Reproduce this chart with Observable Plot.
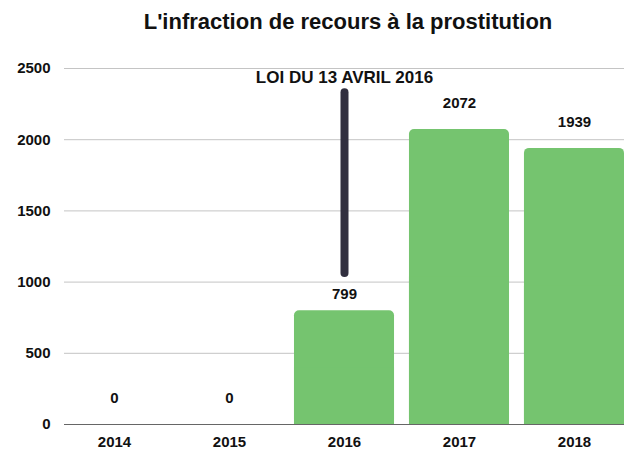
<!DOCTYPE html>
<html>
<head>
<meta charset="utf-8">
<script src="https://cdn.jsdelivr.net/npm/d3@7"></script>
<script src="https://cdn.jsdelivr.net/npm/@observablehq/plot@0.6"></script>
<style>
  body { margin: 0; background: #fff; }
  #title {
    width: 624px; height: 45px; box-sizing: border-box;
    padding-top: 11px; padding-left: 72px;
    text-align: center; font-family: "Liberation Sans Narrow", "Liberation Sans", sans-serif;
    font-weight: bold; font-size: 22px; line-height: 1; color: #111;
  }
</style>
</head>
<body>
<div id="title">L'infraction de recours à la prostitution</div>
<div id="chart"></div>
<script>
const years = ["2014", "2015", "2016", "2017", "2018"];
const counts = [0, 0, 799, 2072, 1939];
const yTicks = [0, 500, 1000, 1500, 2000, 2500];
const lawYear = "2016";
const lawLabel = "LOI DU 13 AVRIL 2016";
const lawSpan = [1060, 2330];

const data = years.map((year, i) => ({year, count: counts[i]}));
const green = "#75c46f";
const numFont = "Liberation Sans, Arial, sans-serif";

const chart = Plot.plot({
  width: 624,
  height: 405,
  marginTop: 23,
  marginBottom: 26,
  marginLeft: 64,
  marginRight: 0,
  style: {fontFamily: numFont, fontWeight: "bold", background: "#fff", color: "#111"},
  x: {domain: years, paddingInner: 0.13, paddingOuter: 0, align: 0.5, round: false, label: null},
  y: {domain: [0, 2500], ticks: yTicks, label: null},
  marks: [
    Plot.ruleY(yTicks.filter(t => t > 0), {stroke: "#c4c4c4", strokeOpacity: 1}),
    Plot.barY(data, {x: "year", y: "count", fill: green, rx: 5}),
    Plot.barY(data, {x: "year", y1: 0, y2: d => d.count / 2, fill: green}),
    Plot.ruleY([0], {stroke: "#666", strokeOpacity: 1}),
    Plot.axisY({ticks: yTicks, tickFormat: d => String(d), tickSize: 0, tickPadding: 14, fontSize: 15, fontWeight: "bold", fill: "#111", label: null, fontFamily: numFont}),
    Plot.axisX({tickSize: 0, tickPadding: 12, fontSize: 15, fontWeight: "bold", fill: "#111", label: null, fontFamily: numFont}),
    Plot.text(data.filter(d => d.year !== lawYear), {x: "year", y: "count", text: d => String(d.count), dy: -26, fontSize: 15, fontWeight: "bold", fill: "#111", fontFamily: numFont}),
    Plot.text(data.filter(d => d.year === lawYear), {x: "year", y: "count", text: d => String(d.count), dy: -17, fontSize: 15, fontWeight: "bold", fill: "#111", fontFamily: numFont}),
    Plot.ruleX([lawYear], {x: d => d, y1: lawSpan[0], y2: lawSpan[1], stroke: "#312f3f", strokeWidth: 8, strokeLinecap: "round", strokeOpacity: 1}),
    Plot.text([lawLabel], {x: () => lawYear, frameAnchor: "top", dy: 2, text: d => d, fontSize: 17, fontWeight: "bold", fill: "#111", fontFamily: "Liberation Sans Narrow, Liberation Sans, sans-serif"})
  ]
});
document.getElementById("chart").appendChild(chart);
</script>
</body>
</html>
